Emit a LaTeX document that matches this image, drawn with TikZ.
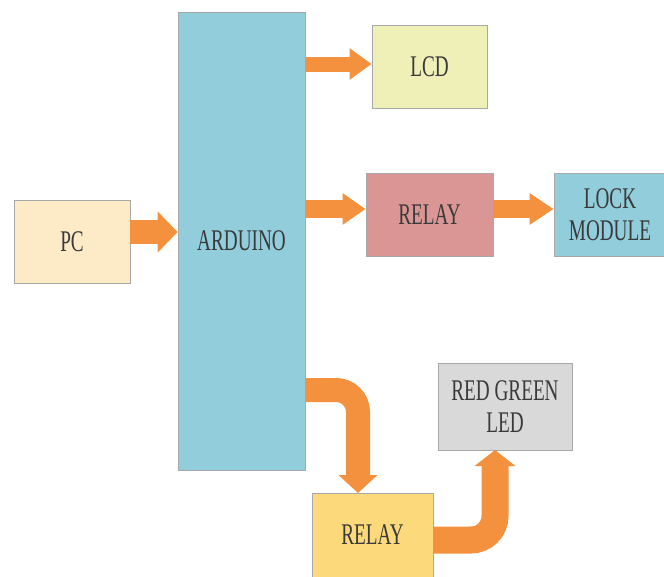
\documentclass[tikz,border=0pt]{standalone}
\usepackage{fontspec}
\newfontfamily\lsf{Liberation Serif}
\usetikzlibrary{arrows.meta}
\definecolor{arrowc}{HTML}{F4913E}
\definecolor{ardc}{HTML}{92CDDC}
\definecolor{pcc}{HTML}{FDEBC8}
\definecolor{lcdc}{HTML}{EEF0B8}
\definecolor{relayc}{HTML}{D99694}
\definecolor{ledc}{HTML}{D9D9D9}
\definecolor{relaybc}{HTML}{FCD97A}
\definecolor{txt}{HTML}{3A3A3A}
\definecolor{bord}{HTML}{A8A8A8}
\newcommand{\nt}[1]{\scalebox{0.64}[1]{#1}}
\tikzset{
  blk/.style={draw=bord, line width=0.8pt, inner sep=0pt, align=center, text=txt,
    font=\lsf\fontsize{30}{32}\selectfont},
  fat/.style={draw=arrowc, line width=#1},
}
\begin{document}
\begin{tikzpicture}[x=1pt,y=-1pt]
\useasboundingbox (0,0) rectangle (664,576);
\fill[white] (0,0) rectangle (664,576);
\node[blk, fill=ardc, minimum width=127pt, minimum height=458pt] (ard) at (241.5,241) {\nt{ARDUINO}};
\node[blk, fill=pcc, minimum width=116pt, minimum height=83pt] (pc) at (72,241.5) {\nt{PC}};
\node[blk, fill=lcdc, minimum width=115pt, minimum height=83pt] (lcd) at (429.5,66.5) {\nt{LCD}};
\node[blk, fill=relayc, minimum width=127pt, minimum height=83pt] (relay1) at (429.5,214.5) {\nt{RELAY}};
\node[blk, fill=ardc, minimum width=112pt, minimum height=83pt] (lock) at (610,214.5) {\nt{LOCK}\\\nt{MODULE}};
\node[blk, fill=ledc, minimum width=134pt, minimum height=87pt] (led) at (505,406.5) {\nt{RED GREEN}\\\nt{LED}};
\node[blk, fill=relaybc, minimum width=121pt, minimum height=84pt] (relay2) at (372.5,535) {\nt{RELAY}};
\coordinate (c1) at (ard.east |- 0,390);
\coordinate (c2) at (relay2.east |- 0,540);
% straight arrows
\draw[fat=24pt, -{Triangle[width=40pt,length=20pt]}] (pc.east |- 0,232) -- (ard.west |- 0,232);
\draw[fat=15pt, -{Triangle[width=30pt,length=22pt]}] (ard.east |- 0,64) -- (lcd.west |- 0,64);
\draw[fat=18pt, -{Triangle[width=30pt,length=23pt]}] (ard.east |- 0,209) -- (relay1.west |- 0,209);
\draw[fat=18pt, -{Triangle[width=30pt,length=24pt]}] (relay1.east |- 0,209) -- (lock.west |- 0,209);
% bent arrows
\draw[fat=24pt, rounded corners=22pt, -{Triangle[width=38pt,length=18pt]}] (c1) -- (358,390) -- (358,493);
\draw[fat=27pt, rounded corners=24pt, -{Triangle[width=40pt,length=16pt]}] (c2) -- (495,540) -- (495,450);
\end{tikzpicture}
\end{document}
